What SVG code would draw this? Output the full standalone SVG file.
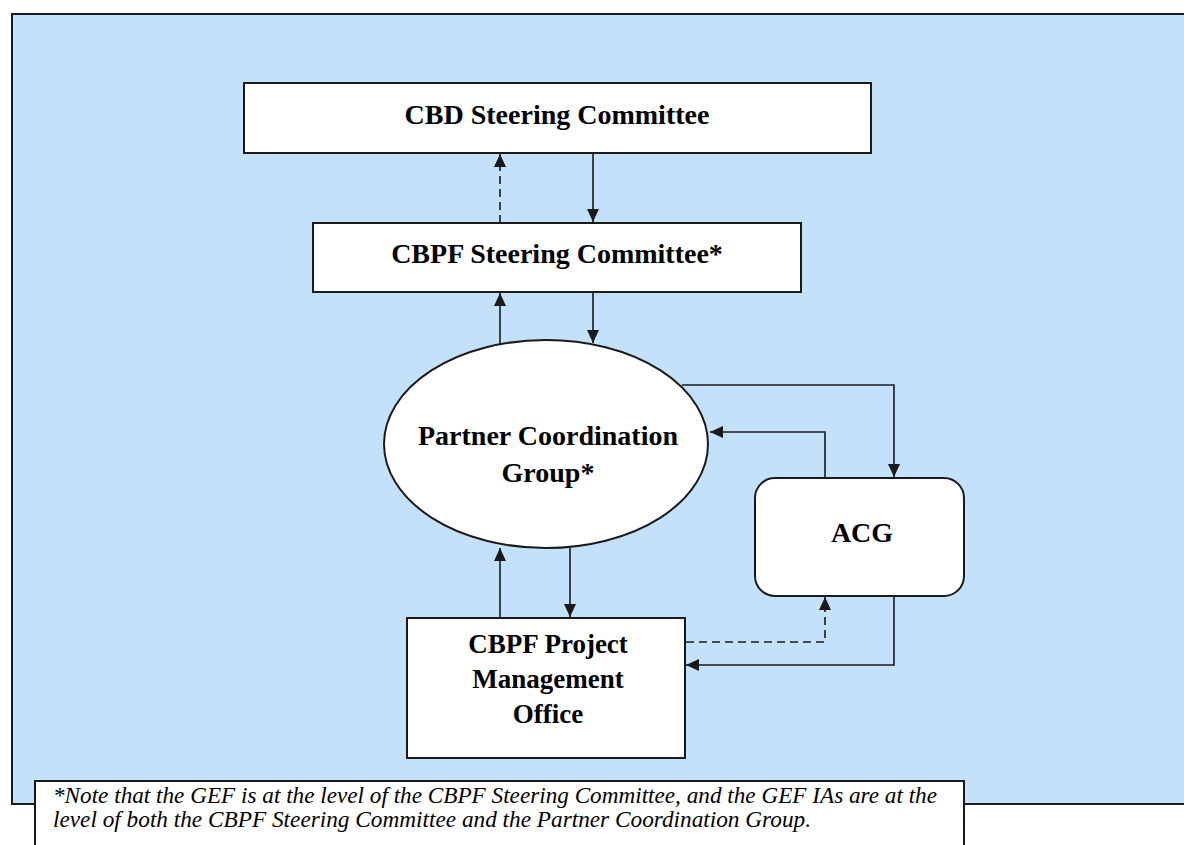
<svg xmlns="http://www.w3.org/2000/svg" width="1184" height="845" viewBox="0 0 1184 845">
<style>
.node{fill:#ffffff;stroke:#1a1a1a;stroke-width:2}
.lbl{font-family:"Liberation Serif","Times New Roman",serif;font-weight:bold;font-size:28px;fill:#000;text-anchor:middle}
.sm{font-size:27px}
.note{font-family:"Liberation Serif","Times New Roman",serif;font-style:italic;font-size:23px;fill:#000}
.c{fill:none;stroke:#1a1a1a;stroke-width:1.6;marker-end:url(#ah)}
.d{stroke-dasharray:8,5}
</style>
<defs>
<marker id="ah" markerUnits="userSpaceOnUse" markerWidth="14" markerHeight="12" refX="13" refY="6" orient="auto">
<path d="M0,0 L13,6 L0,12 z" fill="#1a1a1a"/>
</marker>
</defs>
<rect x="12" y="14" width="1180" height="790" fill="#c4e1fc" stroke="#1a1a1a" stroke-width="2"/>
<g id="connectors">
<path class="c d" d="M500,223 V154"/>
<path class="c" d="M593,153 V222"/>
<path class="c" d="M500,344 V293"/>
<path class="c" d="M593,292 V343"/>
<path class="c" d="M682,385 H894 V477"/>
<path class="c" d="M825,478 V432 H710"/>
<path class="c" d="M500,618 V548"/>
<path class="c" d="M570,548 V617"/>
<path class="c d" d="M686,642 H825 V597"/>
<path class="c" d="M894,596 V665 H686"/>
</g>
<g id="cbd">
<rect class="node" x="244" y="83" width="627" height="70"/>
<text class="lbl" x="557" y="124">CBD Steering Committee</text>
</g>
<g id="cbpf">
<rect class="node" x="313" y="223" width="488" height="69"/>
<text class="lbl" x="557" y="263">CBPF Steering Committee*</text>
</g>
<g id="pcg">
<ellipse class="node" cx="546" cy="444" rx="162" ry="104"/>
<text class="lbl" x="548" y="445">Partner Coordination</text>
<text class="lbl" x="548" y="482">Group*</text>
</g>
<g id="acg">
<rect class="node" x="755" y="478" width="209" height="118" rx="20" ry="20"/>
<text class="lbl" x="862" y="542">ACG</text>
</g>
<g id="pmo">
<rect class="node" x="407" y="618" width="278" height="140"/>
<text class="lbl sm" x="548" y="653">CBPF Project</text>
<text class="lbl sm" x="548" y="688">Management</text>
<text class="lbl sm" x="548" y="723">Office</text>
</g>
<g id="note">
<rect x="35" y="781" width="929" height="80" fill="#ffffff" stroke="#1a1a1a" stroke-width="2"/>
<text class="note" x="53" y="803" textLength="884" lengthAdjust="spacingAndGlyphs">*Note that the GEF is at the level of the CBPF Steering Committee, and the GEF IAs are at the</text>
<text class="note" x="53" y="827" textLength="758" lengthAdjust="spacingAndGlyphs">level of both the CBPF Steering Committee and the Partner Coordination Group.</text>
</g>
</svg>
